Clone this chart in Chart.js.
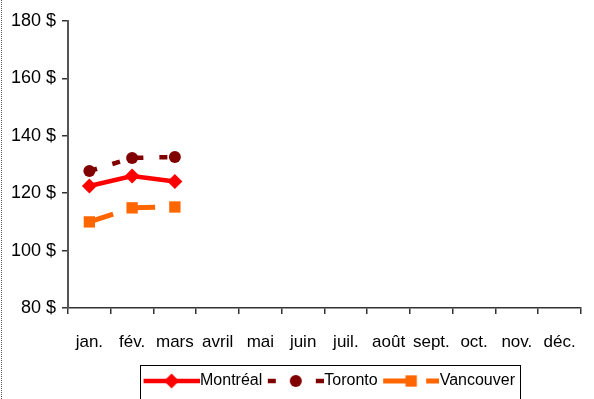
<!DOCTYPE html>
<html>
<head>
<meta charset="utf-8">
<script src="https://cdn.jsdelivr.net/npm/chart.js@4.4.1/dist/chart.umd.min.js"></script>
<style>
  html, body { margin: 0; padding: 0; background: #fff; }
  #wrap { position: relative; width: 594px; height: 399px; overflow: hidden; }
  #dots { position: absolute; left: 1px; top: 0; height: 399px; border-left: 1px dotted #555; }
  canvas { display: block; }
</style>
</head>
<body>
<div id="wrap">
  <canvas id="c" width="594" height="399"></canvas>
  <div id="dots"></div>
</div>
<script>
const months = ['jan.', 'fév.', 'mars', 'avril', 'mai', 'juin', 'juil.', 'août', 'sept.', 'oct.', 'nov.', 'déc.'];
const seriesNames = ['Montréal', 'Toronto', 'Vancouver'];
const montreal = [122.5, 126.0, 124.1];
const toronto = [127.7, 132.3, 132.6];
const vancouver = [110.0, 114.9, 115.2];
const yTicks = [80, 100, 120, 140, 160, 180];

const FONT = "'Liberation Sans', Arial, sans-serif";

function makeSample(ds) {
  const W = 63, H = 18, off = 7, len = 56;
  const cv = document.createElement('canvas');
  cv.width = W; cv.height = H;
  const ctx = cv.getContext('2d');
  ctx.strokeStyle = ds.borderColor;
  ctx.lineWidth = ds.borderWidth;
  ctx.setLineDash(ds.borderDash || []);
  ctx.beginPath();
  ctx.moveTo(off, H / 2);
  ctx.lineTo(off + len, H / 2);
  ctx.stroke();
  ctx.setLineDash([]);
  const cx = off + len / 2, cy = H / 2, r = ds.pointRadius;
  ctx.fillStyle = ds.pointBackgroundColor;
  ctx.beginPath();
  if (ds.pointStyle === 'rectRot') {
    ctx.moveTo(cx - r, cy); ctx.lineTo(cx, cy - r); ctx.lineTo(cx + r, cy); ctx.lineTo(cx, cy + r); ctx.closePath();
  } else if (ds.pointStyle === 'rect') {
    const s = r * Math.SQRT1_2;
    ctx.rect(cx - s, cy - s, 2 * s, 2 * s);
  } else {
    ctx.arc(cx, cy, r, 0, Math.PI * 2);
  }
  ctx.fill();
  return cv;
}

const legendShift = {
  id: 'legendShift',
  afterLayout(chart) {
    const lg = chart.legend;
    if (lg) { lg.left += 35; lg.right += 35; }
  }
};

const legendBorder = {
  id: 'legendBorder',
  afterDraw(chart) {
    const lg = chart.legend;
    if (!lg || !lg.legendHitBoxes || !lg.legendHitBoxes.length) return;
    const hb = lg.legendHitBoxes;
    let l = Infinity, r = -Infinity;
    hb.forEach(h => { l = Math.min(l, h.left); r = Math.max(r, h.left + h.width); });
    const ctx = chart.ctx;
    ctx.save();
    ctx.strokeStyle = '#000';
    ctx.lineWidth = 1;
    ctx.strokeRect(Math.round(l - 4) + 0.5, Math.round(lg.top - 2) + 0.5, Math.round(r - l + 9), 60);
    ctx.restore();
  }
};

const datasets = [
  {
    label: seriesNames[0], data: montreal,
    borderColor: '#FF0000', backgroundColor: '#FF0000', borderWidth: 4.5, borderDash: [],
    pointStyle: 'rectRot', pointRadius: 7.5, pointBackgroundColor: '#FF0000', pointBorderWidth: 0,
    tension: 0
  },
  {
    label: seriesNames[1], data: toronto,
    borderColor: '#800000', backgroundColor: '#800000', borderWidth: 4.5, borderDash: [8, 16],
    pointStyle: 'circle', pointRadius: 6, pointBackgroundColor: '#800000', pointBorderWidth: 0,
    tension: 0
  },
  {
    label: seriesNames[2], data: vancouver,
    borderColor: '#FF6600', backgroundColor: '#FF6600', borderWidth: 5, borderDash: [25, 18],
    pointStyle: 'rect', pointRadius: 8, pointBackgroundColor: '#FF6600', pointBorderWidth: 0,
    tension: 0
  }
];

new Chart(document.getElementById('c'), {
  type: 'line',
  data: { labels: months, datasets },
  plugins: [legendShift, legendBorder],
  options: {
    responsive: false,
    animation: false,
    events: [],
    layout: { padding: { left: 0, right: 5, top: 21, bottom: 0 } },
    scales: {
      x: {
        offset: true,
        grid: { offset: true, drawOnChartArea: false, drawTicks: true, tickLength: 6, color: '#333', lineWidth: 1.5 },
        border: { display: true, color: '#333', width: 1.5 },
        ticks: { color: '#000', font: { family: FONT, size: 17 }, padding: 18, autoSkip: false, maxRotation: 0 },
        afterFit(s) { s.height = 59; }
      },
      y: {
        min: 80, max: 180,
        afterBuildTicks(s) { s.ticks = yTicks.map(v => ({ value: v })); },
        grid: { drawOnChartArea: false, drawTicks: true, tickLength: 6, color: '#333', lineWidth: 1.5 },
        border: { display: true, color: '#555', width: 2 },
        ticks: { color: '#000', font: { family: FONT, size: 18 }, padding: 6, callback: v => v + ' $' },
        afterFit(s) { s.width = 68; }
      }
    },
    plugins: {
      tooltip: { enabled: false },
      legend: {
        position: 'bottom',
        labels: {
          color: '#000',
          font: { family: FONT, size: 16 },
          usePointStyle: true,
          pointStyleWidth: 48,
          boxHeight: 16,
          padding: 6,
          generateLabels(chart) {
            return chart.data.datasets.map((ds, i) => ({
              text: ds.label,
              fillStyle: ds.borderColor,
              strokeStyle: ds.borderColor,
              lineWidth: 0,
              pointStyle: makeSample(ds),
              rotation: 0,
              hidden: false,
              datasetIndex: i,
              fontColor: '#000'
            }));
          }
        }
      }
    }
  }
});
</script>
</body>
</html>
